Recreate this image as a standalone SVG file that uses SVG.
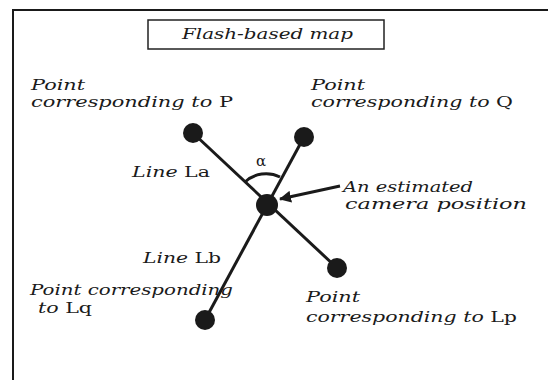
<svg xmlns="http://www.w3.org/2000/svg" width="548" height="380" viewBox="0 0 548 380">
  <style>
    .lbl { font-family: "DejaVu Serif", "Liberation Serif", serif; font-size: 15px; font-style: italic; fill: #1a1a1a; }
    .up { font-style: normal; }
    .ln { stroke: #1a1a1a; stroke-width: 3; fill: none; }
    .dot { fill: #1a1a1a; }
  </style>
  <defs>
    <marker id="head" viewBox="0 0 12 12" refX="11" refY="6" markerWidth="12" markerHeight="12" markerUnits="userSpaceOnUse" orient="auto">
      <path d="M0,0 L12,6 L0,12 Z" fill="#1a1a1a"/>
    </marker>
  </defs>
  <rect width="548" height="380" fill="#ffffff"/>

  <!-- outer map frame (runs off the right and bottom edges) -->
  <rect x="13" y="10" width="600" height="420" fill="none" stroke="#1a1a1a" stroke-width="2"/>

  <g id="title">
    <rect x="148" y="20" width="236" height="29" fill="none" stroke="#222" stroke-width="1.5"/>
    <text class="lbl" x="182" y="39" textLength="171" lengthAdjust="spacingAndGlyphs" font-size="16">Flash-based map</text>
  </g>

  <g id="connectors">
    <line class="ln" x1="193" y1="133" x2="337" y2="268"/>
    <line class="ln" x1="304" y1="137" x2="205" y2="320"/>
    <path class="ln" d="M245,182 A31,31 0 0 1 280,177" stroke-width="1.5"/>
    <line class="ln" x1="340" y1="186" x2="280" y2="199" stroke-width="2" marker-end="url(#head)"/>
  </g>

  <g id="point-P">
    <circle class="dot" cx="193" cy="133" r="10"/>
    <text class="lbl" x="31" y="90" textLength="54" lengthAdjust="spacingAndGlyphs">Point</text>
    <text class="lbl" x="31" y="107" textLength="202" lengthAdjust="spacingAndGlyphs">corresponding to <tspan class="up">P</tspan></text>
  </g>

  <g id="point-Q">
    <circle class="dot" cx="304" cy="137" r="10"/>
    <text class="lbl" x="311" y="90" textLength="54" lengthAdjust="spacingAndGlyphs">Point</text>
    <text class="lbl" x="311" y="107" textLength="202" lengthAdjust="spacingAndGlyphs">corresponding to <tspan class="up">Q</tspan></text>
  </g>

  <g id="camera">
    <circle class="dot" cx="267" cy="205" r="11"/>
    <text class="lbl" x="343" y="192" textLength="130" lengthAdjust="spacingAndGlyphs">An estimated</text>
    <text class="lbl" x="345" y="209" textLength="182" lengthAdjust="spacingAndGlyphs">camera position</text>
  </g>

  <g id="point-Lp">
    <circle class="dot" cx="337" cy="268" r="10"/>
    <text class="lbl" x="306" y="302" textLength="54" lengthAdjust="spacingAndGlyphs">Point</text>
    <text class="lbl" x="306" y="322" textLength="211" lengthAdjust="spacingAndGlyphs">corresponding to <tspan class="up">Lp</tspan></text>
  </g>

  <g id="point-Lq">
    <circle class="dot" cx="205" cy="320" r="10"/>
    <text class="lbl" x="30" y="295" textLength="203" lengthAdjust="spacingAndGlyphs">Point corresponding</text>
    <text class="lbl" x="38" y="313" textLength="54" lengthAdjust="spacingAndGlyphs">to <tspan class="up">Lq</tspan></text>
  </g>

  <g id="line-labels">
    <text class="lbl" x="132" y="177" textLength="78" lengthAdjust="spacingAndGlyphs">Line <tspan class="up">La</tspan></text>
    <text class="lbl" x="143" y="263" textLength="78" lengthAdjust="spacingAndGlyphs">Line <tspan class="up">Lb</tspan></text>
    <text class="lbl up" x="256" y="166" font-size="12">α</text>
  </g>
</svg>
